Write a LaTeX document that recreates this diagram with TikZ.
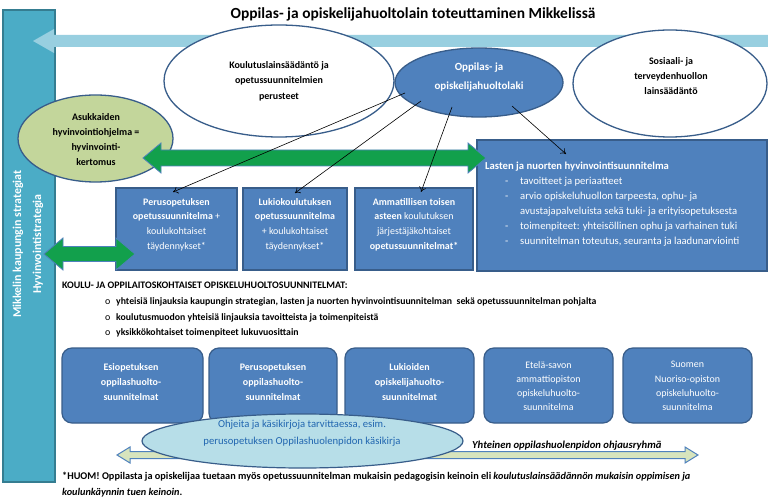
\documentclass[tikz,border=0pt]{standalone}
\usepackage{fontspec}
\setmainfont{Carlito}
\usetikzlibrary{shapes.geometric,arrows.meta,calc}
\definecolor{boxblue}{HTML}{4F81BD}
\definecolor{edgeblue}{HTML}{385D8A}
\definecolor{barteal}{HTML}{4BACC6}
\definecolor{baredge}{HTML}{357D91}
\definecolor{topblue}{HTML}{98CFE0}
\definecolor{arrgreen}{HTML}{12A04C}
\definecolor{olivefill}{HTML}{C3D69B}
\definecolor{paleblue}{HTML}{B7DEE8}
\definecolor{palegreen}{HTML}{D7E4BD}
\definecolor{inkblue}{HTML}{2166B0}
\begin{document}
\begin{tikzpicture}[x=1bp,y=-1bp,
  bluebox/.style={draw=edgeblue,fill=boxblue,line width=1.2bp,inner sep=0},
  rbox/.style={bluebox,rounded corners=10bp},
  wtxt/.style={text=white,align=center,inner sep=0,font=\fontsize{10}{14.7}\selectfont},
  ell/.style={ellipse,draw=edgeblue,line width=1.3bp,inner sep=0,align=center,font=\fontsize{10}{15.5}\selectfont\bfseries},
  garrow/.style={fill=arrgreen,draw=boxblue,line width=0.8bp},
  connarrow/.style={draw=black,line width=0.6bp,-{To[length=5bp,width=7bp]}},
  btxt/.style={inner sep=0,font=\fontsize{9.8}{15}\selectfont\bfseries,anchor=base west},
  bul/.style={inner sep=0,font=\fontsize{10}{15}\selectfont,anchor=base west},
]
\useasboundingbox (0,0) rectangle (768,498);
\fill[white] (0,0) rectangle (768,498);

% title
\node[inner sep=0,anchor=base,font=\fontsize{15.5}{17}\selectfont\bfseries] (title) at (413,18.5) {Oppilas- ja opiskelijahuoltolain toteuttaminen Mikkelissä};

% left bar
\node[draw=baredge,fill=barteal,line width=1.2bp,minimum width=52bp,minimum height=472bp,inner sep=0] (bar) at (29,246) {};
\node[rotate=90,text=white,inner sep=0,font=\fontsize{12}{20}\selectfont\bfseries,align=center] (bart) at (28,244) {Mikkelin kaupungin strategiat\\Hyvinvointistrategia};

% top arrow
\fill[topblue] (33,41) -- (54,29) -- (54,35) -- (768,35) -- (768,47) -- (54,47) -- (54,53) -- cycle;

% ellipses
\node[ell,fill=white,minimum width=230bp,minimum height=112bp] (kl) at (279,81) {Koulutuslainsäädäntö ja\\opetussuunnitelmien\\perusteet};
\node[ell,fill=boxblue,minimum width=168bp,minimum height=69bp] (ol) at (479,82.5) {};
\node[inner sep=0,align=center,text=white,font=\fontsize{11}{19}\selectfont\bfseries] (olt) at (479,77) {Oppilas- ja\\opiskelijahuoltolaki};
\node[ell,fill=white,minimum width=194bp,minimum height=107bp] (so) at (670,83.5) {};
\node[inner sep=0,align=center,font=\fontsize{10}{15.5}\selectfont\bfseries] (sot) at (671,76) {Sosiaali- ja\\terveydenhuollon\\lainsäädäntö};

\node[ell,fill=olivefill,minimum width=155bp,minimum height=87bp] (as) at (95.5,138.5) {};
\node[inner sep=0,align=center,font=\fontsize{10}{15}\selectfont\bfseries] (ast) at (96,139.5) {Asukkaiden\\hyvinvointiohjelma =\\hyvinvointi-\\kertomus};

% row 1 boxes
\node[bluebox,minimum width=121bp,minimum height=82bp] (b1) at (176.5,229) {};
\node[bluebox,minimum width=104bp,minimum height=82bp] (b2) at (295,229) {};
\node[bluebox,minimum width=118bp,minimum height=82bp] (b3) at (414,229) {};
\node[bluebox,minimum width=290bp,minimum height=131bp] (b4) at (622,205.5) {};

\node[wtxt] (b1t) at (176.5,224.5) {\textbf{Perusopetuksen}\\\textbf{opetussuunnitelma} +\\koulukohtaiset\\täydennykset*};
\node[wtxt] (b2t) at (295,224.5) {\textbf{Lukiokoulutuksen}\\\textbf{opetussuunnitelma}\\+ koulukohtaiset\\täydennykset*};
\node[wtxt] (b3t) at (414,224.5) {\textbf{Ammatillisen toisen}\\\textbf{asteen} koulutuksen\\järjestäjäkohtaiset\\\textbf{opetussuunnitelmat*}};
\node[wtxt,align=left,anchor=north west,font=\fontsize{10.7}{15.2}\selectfont] (b4t) at (485,161.5) {\textbf{Lasten ja nuorten hyvinvointisuunnitelma}\\
\hspace*{20bp}\makebox[15bp][l]{-}tavoitteet ja periaatteet\\
\hspace*{20bp}\makebox[15bp][l]{-}arvio opiskeluhuollon tarpeesta, ophu- ja\\
\hspace*{35bp}avustajapalveluista sekä tuki- ja erityisopetuksesta\\
\hspace*{20bp}\makebox[15bp][l]{-}toimenpiteet: yhteisöllinen ophu ja varhainen tuki\\
\hspace*{20bp}\makebox[15bp][l]{-}suunnitelman toteutus, seuranta ja laadunarviointi};

% green double arrows
\filldraw[garrow] (143,158) -- (161,143) -- (161,150) -- (468,150) -- (468,143) -- (486,158) -- (468,173) -- (468,166) -- (161,166) -- (161,173) -- cycle;
\filldraw[garrow] (44,254) -- (63,238) -- (63,246.5) -- (116,246.5) -- (116,238) -- (135,254) -- (116,270) -- (116,261.5) -- (63,261.5) -- (63,270) -- cycle;

% connectors
\coordinate (s1) at (405,93); \coordinate (e1) at (173,192);
\coordinate (s2) at (421,101); \coordinate (e2) at (295,193);
\coordinate (s3) at (452,107); \coordinate (e3) at (421,192);
\coordinate (s4) at (512,106); \coordinate (e4) at (566,154);
\draw[connarrow] (s1) -- (e1);
\draw[connarrow] (s2) -- (e2);
\draw[connarrow] (s3) -- (e3);
\draw[connarrow] (s4) -- (e4);

% list
\node[btxt,font=\fontsize{10}{15}\selectfont\bfseries] (kh) at (62,289) {KOULU- JA OPPILAITOSKOHTAISET OPISKELUHUOLTOSUUNNITELMAT:};
\node[bul] (o1) at (105,305) {o};
\node[bul] (o2) at (105,320) {o};
\node[bul] (o3) at (105,335) {o};
\node[btxt] (k1) at (116,305) {yhteisiä linjauksia kaupungin strategian, lasten ja nuorten hyvinvointisuunnitelman\ \ sekä opetussuunnitelman pohjalta};
\node[btxt] (k2) at (116,320) {koulutusmuodon yhteisiä linjauksia tavoitteista ja toimenpiteistä};
\node[btxt] (k3) at (116,335) {yksikkökohtaiset toimenpiteet lukuvuosittain};

% row 2 boxes
\node[rbox,minimum width=141bp,minimum height=75bp] (r1) at (132.5,385.5) {};
\node[rbox,minimum width=128bp,minimum height=75bp] (r2) at (273,385.5) {};
\node[rbox,minimum width=129bp,minimum height=75bp] (r3) at (409.5,385.5) {};
\node[rbox,minimum width=129bp,minimum height=75bp] (r4) at (548.5,385.5) {};
\node[rbox,minimum width=129bp,minimum height=75bp] (r5) at (687.5,385.5) {};
\node[wtxt,font=\fontsize{10}{15.5}\selectfont\bfseries] (r1t) at (131,382) {Esiopetuksen\\oppilashuolto-\\suunnitelmat};
\node[wtxt,font=\fontsize{10}{15.5}\selectfont\bfseries] (r2t) at (273,382) {Perusopetuksen\\oppilashuolto-\\suunnitelmat};
\node[wtxt,font=\fontsize{10}{15.5}\selectfont\bfseries] (r3t) at (409.5,382) {Lukioiden\\opiskelijahuolto-\\suunnitelmat};
\node[wtxt,font=\fontsize{10}{14.3}\selectfont] (r4t) at (548.5,386) {Etelä-savon\\ammattiopiston\\opiskeluhuolto-\\suunnitelma};
\node[wtxt,font=\fontsize{10}{14.3}\selectfont] (r5t) at (687.5,386) {Suomen\\Nuoriso-opiston\\opiskeluhuolto-\\suunnitelma};

% bottom arrow
\filldraw[fill=palegreen,draw=boxblue,line width=1bp] (117,455) -- (130,447) -- (130,451.5) -- (685,451.5) -- (685,447) -- (698,455) -- (685,463) -- (685,458.5) -- (130,458.5) -- (130,463) -- cycle;
\node[ellipse,draw=edgeblue,fill=paleblue,line width=1.2bp,minimum width=321bp,minimum height=54bp,inner sep=0] (oh) at (302.5,441) {};
\node[inner sep=0,align=center,text=inkblue,font=\fontsize{10.7}{16.5}\selectfont] (oht) at (302,433) {Ohjeita ja käsikirjoja tarvittaessa, esim.\\perusopetuksen Oppilashuolenpidon käsikirja};
\node[btxt,font=\fontsize{10.7}{15}\selectfont\bfseries\itshape] (yh) at (472,448) {Yhteinen oppilashuolenpidon ohjausryhmä};

% footer
\node[btxt,font=\fontsize{10.3}{15}\selectfont\bfseries] (f1) at (62,479) {*HUOM! Oppilasta ja opiskelijaa tuetaan myös opetussuunnitelman mukaisin pedagogisin keinoin eli \textit{koulutuslainsäädännön mukaisin oppimisen ja}};
\node[btxt,font=\fontsize{10.3}{15}\selectfont\bfseries] (f2) at (62,495) {\textit{koulunkäynnin tuen keinoin}.};
\end{tikzpicture}
\end{document}
